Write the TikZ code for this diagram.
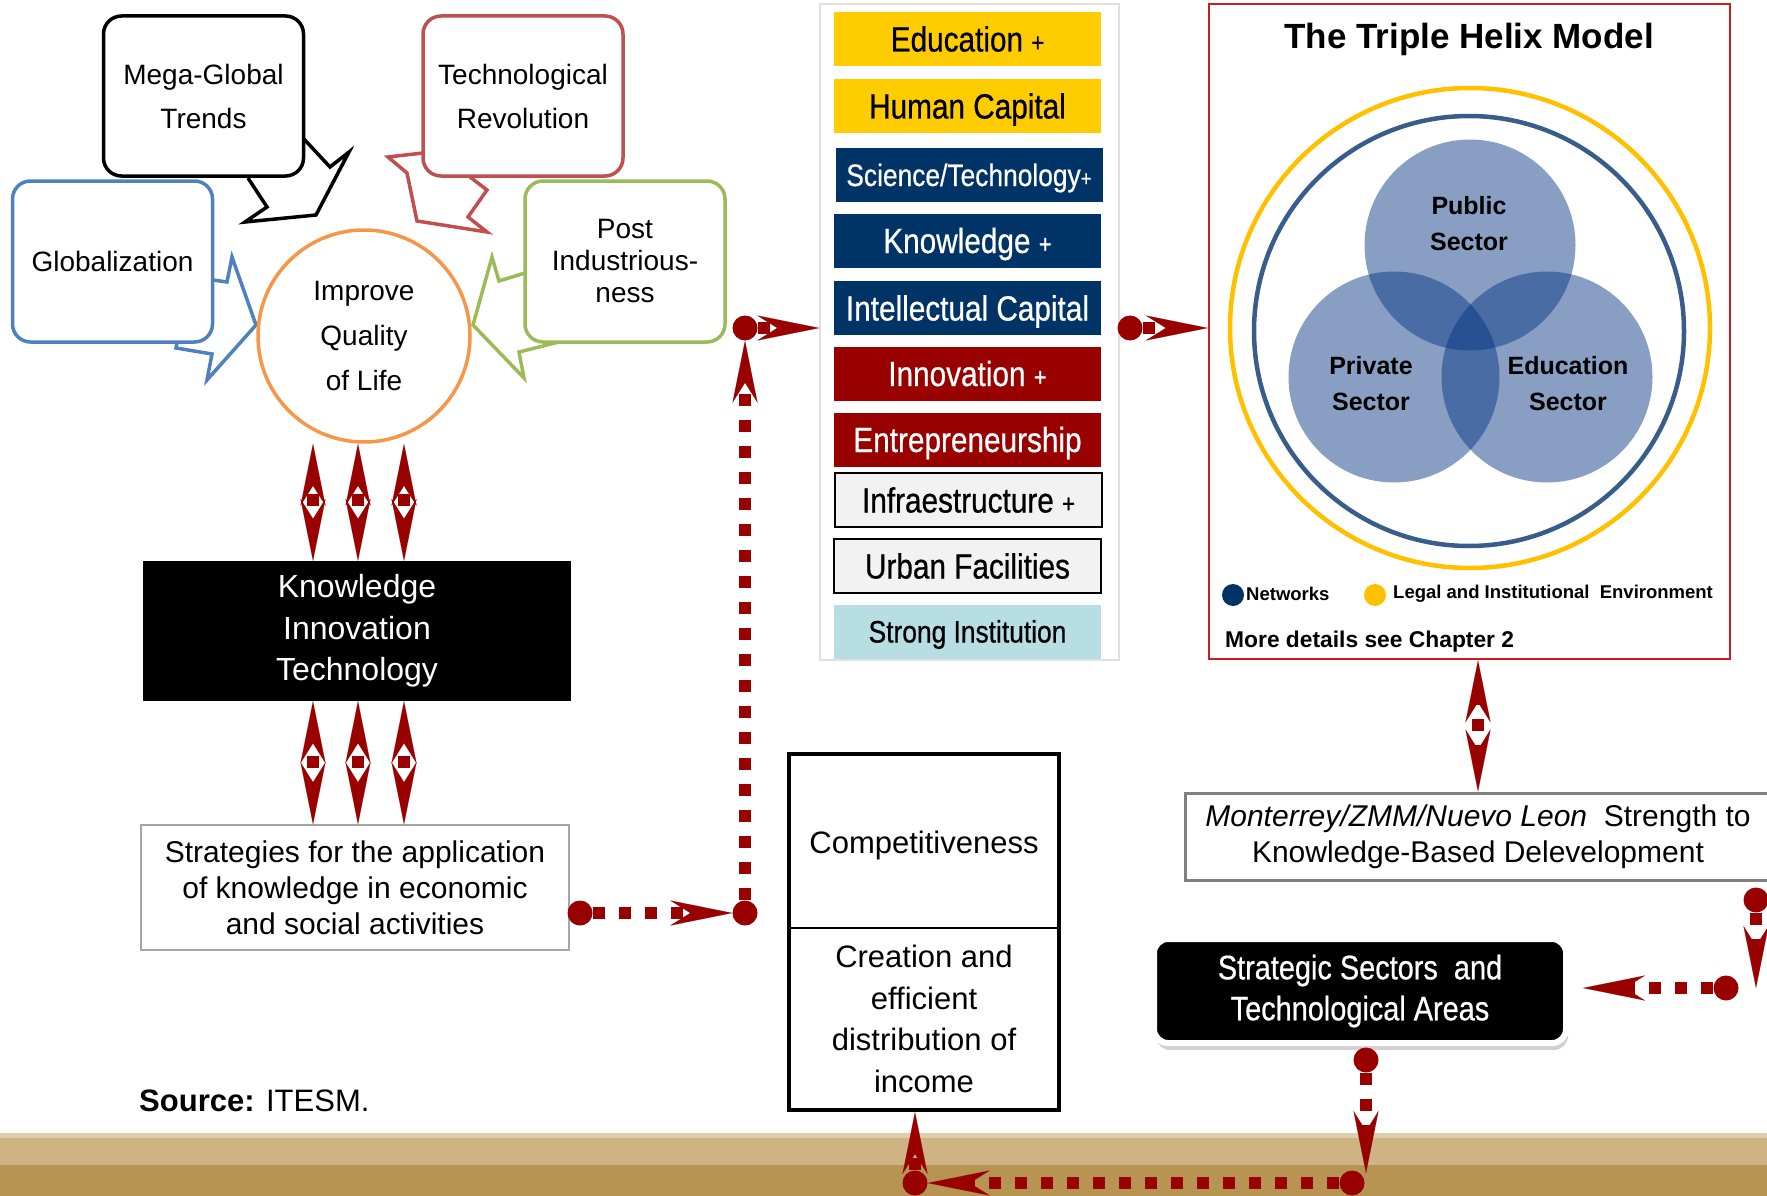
\documentclass[tikz,border=0pt]{standalone}
\usepackage{fontspec}
\setmainfont{Liberation Sans}
\newfontfamily\condfont[FakeStretch=0.85,FakeBold=0.6]{Liberation Sans}
\usetikzlibrary{arrows.meta,calc,shadows}

\definecolor{kred}{RGB}{153,0,0}
\definecolor{knavy}{RGB}{0,51,102}
\definecolor{kgold}{RGB}{255,204,0}
\definecolor{kringgold}{RGB}{255,192,0}
\definecolor{kringblue}{RGB}{56,93,138}
\definecolor{kvenn}{RGB}{2,51,128}
\definecolor{kcyan}{RGB}{183,222,226}
\definecolor{kgraybox}{RGB}{242,242,242}
\definecolor{kglob}{RGB}{79,129,189}
\definecolor{ktech}{RGB}{192,80,77}
\definecolor{kpost}{RGB}{155,187,89}
\definecolor{korange}{RGB}{247,150,70}
\definecolor{khelix}{RGB}{204,30,30}
\definecolor{kpanel}{RGB}{224,224,224}
\definecolor{kframe}{RGB}{128,128,128}
\definecolor{kbandtop}{RGB}{221,206,172}
\definecolor{kbandlight}{RGB}{205,180,130}
\definecolor{kbanddark}{RGB}{184,148,82}

\newcommand{\smallplus}{\ {\fontsize{26}{26}\selectfont+}}

\tikzset{
  callout/.style={rounded corners=18pt,line width=3.5pt,fill=white,minimum width=200pt,minimum height=160pt,align=center,inner sep=2pt,font=\fontsize{28}{44}\selectfont},
  listbox/.style={minimum width=267pt,minimum height=54pt,inner sep=0pt,text height=25pt,text depth=0pt,font=\condfont\fontsize{35}{40}\selectfont},
  reddot/.style={circle,fill=kred,minimum size=25pt,inner sep=0pt},
  conn/.style={kred,line width=12pt,dash pattern=on 12pt off 14pt,-{Stealth[length=62pt,width=25pt,inset=20pt,line width=0.1pt]}},
  dblarrow/.style={conn,dash phase=13pt,{Stealth[length=62pt,width=25pt,inset=20pt,line width=0.1pt]}-{Stealth[length=62pt,width=25pt,inset=20pt,line width=0.1pt]}},
  venn/.style={circle,fill=kvenn,fill opacity=.47,minimum size=211pt,inner sep=0pt},
  vennlabel/.style={align=center,font=\bfseries\fontsize{25}{36}\selectfont},
  legend/.style={anchor=west,inner sep=0pt,font=\bfseries\fontsize{18.5}{20}\selectfont},
}

\begin{document}
\begin{tikzpicture}[x=1pt,y=-1pt]
	\useasboundingbox (0,0) rectangle (1767,1196);

	% ground band
	\fill[kbandlight] (0,1133) rectangle (1767,1165);
	\fill[kbandtop] (0,1133) rectangle (1767,1138);
	\fill[kbanddark] (0,1165) rectangle (1767,1196);

	% callouts round the circle
	\draw[line width=3.5pt,fill=white] (303,138)--(330,167)--(349,152)--(316,215)--(245,222)--(267,207)--(248,178);
	\draw[ktech,line width=3.5pt,fill=white] (423,153)--(388,157)--(407,173)--(417,221)--(487,232)--(468,217)--(487,190)--(470,177);
	\draw[kglob,line width=3.5pt,fill=white] (213,280)--(227,282)--(232,257)--(256,325)--(207,380)--(212,354)--(176,348)--(177,342);
	\draw[kpost,line width=3.5pt,fill=white] (525,273)--(499,281)--(492,257)--(473,325)--(524,378)--(519,352)--(555,343)--(553,342);
	\node[callout,draw=black] at (203.5,96) (mega){Mega-Global\\Trends};
	\node[callout,draw=ktech] at (523,96) (tech){Technological\\Revolution};
	\node[callout,draw=kglob,minimum height=161pt] at (112.5,261.5) (glob){Globalization};
	\node[callout,draw=kpost,minimum height=161pt,font=\fontsize{28}{32}\selectfont] at (625,261.5) (post){Post\\Industrious-\\ness};
	\node[circle,draw=korange,line width=3.5pt,minimum size=212pt,inner sep=0pt,align=center,font=\fontsize{28}{45}\selectfont] at (364,336) (qol){Improve\\Quality\\of Life};

	\node[fill=black,text=white,minimum width=428pt,minimum height=140pt,align=center,font=\fontsize{32}{41.5}\selectfont] at (357,631) (kit){Knowledge\\Innovation\\Technology};
	\node[draw=kframe!70,line width=1.5pt,minimum width=428pt,minimum height=125pt,align=center,font=\fontsize{30}{36}\selectfont] at (355,887.5) (apply){Strategies for the application\\of knowledge in economic\\and social activities};
	\foreach \dx in {-44,1,47}{
		\path[dblarrow] ($(kit.north)+(\dx,0)$) edge ($(kit.north |- qol.south)+(\dx,0)$);
		\path[dblarrow] ($(kit.south)+(\dx,0)$) edge ($(kit.south |- apply.north)+(\dx,0)$);
	}

	% list of assets
	\node[draw=kpanel,line width=1.5pt,minimum width=299pt,minimum height=656pt] at (969.5,332) (panel){};
	\node[listbox,fill=kgold] at (967.5,39) (edu){Education\smallplus};
	\node[listbox,fill=kgold] at (967.5,106) (hum){Human Capital};
	\node[listbox,fill=knavy,text=white,text height=22pt,font=\condfont\fontsize{31}{34}\selectfont] at (969,175) (sci){Science/Technology{\fontsize{22}{22}\selectfont+}};
	\node[listbox,fill=knavy,text=white] at (967.5,240.5) (kno){Knowledge\smallplus};
	\node[listbox,fill=knavy,text=white] at (967.5,308) (int){Intellectual Capital};
	\node[listbox,fill=kred,text=white] at (967.5,373.5) (inn){Innovation\smallplus};
	\node[listbox,fill=kred,text=white] at (967.5,439.5) (ent){Entrepreneurship};
	\node[listbox,fill=kgraybox,draw=black,line width=2pt] at (968.5,500) (inf){Infraestructure\smallplus};
	\node[listbox,fill=kgraybox,draw=black,line width=2pt] at (967.5,566) (urb){Urban Facilities};
	\node[listbox,fill=kcyan,text height=22pt,font=\condfont\fontsize{31}{34}\selectfont] at (967.5,631.5) (sti){Strong Institution};

	% triple helix
	\node[draw=khelix,line width=2.5pt,minimum width=521pt,minimum height=655pt] at (1469.5,331.5) (helix){};
	\node[font=\bfseries\fontsize{35}{40}\selectfont] at (1469,39) (title){The Triple Helix Model};
	\node[circle,draw=kringgold,line width=4.5pt,minimum size=480pt,inner sep=0pt] at (1470,328) (legal){};
	\node[circle,draw=kringblue,line width=4.5pt,minimum size=430pt,inner sep=0pt] at (1469,331) (net){};
	\node[venn] at (1470,245) (pub){};
	\node[venn] at (1394,377) (pri){};
	\node[venn] at (1547,377) (eds){};
	\node[vennlabel] at (1469,224) (publbl){Public\\Sector};
	\node[vennlabel] at (1371,384) (prilbl){Private\\Sector};
	\node[vennlabel] at (1568,384) (edslbl){Education\\Sector};
	\node[circle,fill=knavy,minimum size=22pt,inner sep=0pt] at (1233,595) (netdot){};
	\node[legend] at (1246,594) (netlbl){Networks};
	\node[circle,fill=kringgold,minimum size=22pt,inner sep=0pt] at (1375,595) (legdot){};
	\node[legend] at (1393,594) (leglbl){Legal and Institutional\ \ Environment};
	\node[legend,font=\bfseries\fontsize{22.8}{24}\selectfont] at (1225,642) (more){More details see Chapter 2};

	% competitiveness
	\node[draw,line width=4pt,minimum width=270pt,minimum height=356pt] at (924,932) (comp){};
	\draw[line width=2pt] ([yshift=4pt]comp.west) -- ([yshift=4pt]comp.east);
	\node[font=\fontsize{31}{31}\selectfont] at (924,845) (complbl){Competitiveness};
	\node[align=center,font=\fontsize{31}{41.5}\selectfont] at (924,1019) (income){Creation and\\efficient\\distribution of\\income};

	\node[draw=kframe,line width=3pt,fill=white,minimum width=586pt,minimum height=87pt,align=center,font=\fontsize{30}{36}\selectfont] at (1478,836.5) (mty){\textit{Monterrey/ZMM/Nuevo Leon}\ \ Strength to\\Knowledge-Based Delevelopment};
	\node[fill=black,draw=white,line width=6pt,rounded corners=14pt,text=white,minimum width=412pt,minimum height=104pt,align=center,font=\condfont\fontsize{34}{41}\selectfont,drop shadow={shadow xshift=2pt,shadow yshift=-7pt,fill=black!45,opacity=.4}] at (1360,991) (sectors){Strategic Sectors\ \ and\\Technological Areas};

	\node[anchor=west,inner sep=0pt,font=\fontsize{31}{31}\selectfont] at (139,1101) (src){\textbf{Source:} ITESM.};

	% dotted connectors
	\node[reddot] at (580,913) (dA){};
	\node[reddot] at (745,913) (dB){};
	\node[reddot] at (745,328) (dC){};
	\node[reddot] at (1130,328) (dD){};
	\node[reddot] at (1756,900) (dE){};
	\node[reddot] at (1726,988) (dF){};
	\node[reddot] at (1366,1060) (dG){};
	\node[reddot] at (1352,1183) (dH){};
	\node[reddot] at (915,1183) (dI){};
	\path[conn](dA)edge(dB)(dB)edge(dC)(dC)edge(dC -| panel.west)(dD)edge(dD -| helix.west);
	\path[dblarrow,dash phase=7pt](mty.north)edge(mty.north |- helix.south);
	\path[conn](dE)edge(dE |- dF)(dF)edge[shorten >=14pt](dF -| sectors.east);
	\path[conn](dG)edge[shorten >=10pt](dG |- dH)(dH)edge(dI)(dI)edge(dI |- comp.south);
\end{tikzpicture}
\end{document}
